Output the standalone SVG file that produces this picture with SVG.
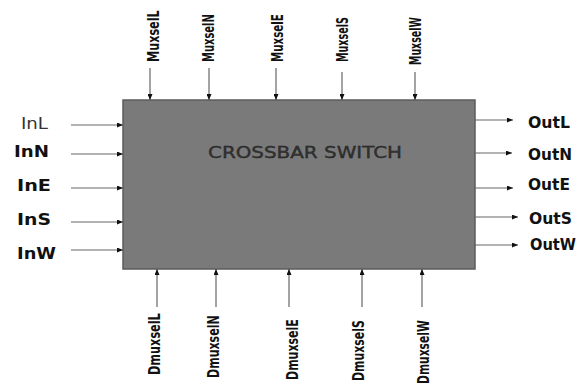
<svg xmlns="http://www.w3.org/2000/svg" width="582" height="385" viewBox="0 0 582 385">
<style>
.ln{stroke:#666;stroke-width:1.2;fill:none;marker-end:url(#ah)}
.v{font-family:"DejaVu Sans","Liberation Sans",sans-serif;font-weight:bold;font-size:16px;fill:#111}
.h{font-family:"DejaVu Sans","Verdana",sans-serif;font-weight:bold;font-size:15px;fill:#111}
.r{font-family:"DejaVu Sans","Verdana",sans-serif;font-size:15px;fill:#333}
</style>
<defs>
<marker id="ah" markerWidth="6" markerHeight="5" refX="6" refY="2.5" orient="auto" markerUnits="userSpaceOnUse">
<path d="M0,0 L6,2.5 L0,5 Z" fill="#111"/>
</marker>
</defs>
<rect width="582" height="385" fill="#fff"/>
<g id="crossbar">
<rect x="123" y="100" width="352" height="169" fill="#7a7a7a" stroke="#5c5c5c" stroke-width="1.5"/>
<text x="208" y="158" class="r" textLength="194" lengthAdjust="spacingAndGlyphs" fill="#1a1a1a" stroke="#1a1a1a" stroke-width="0.3">CROSSBAR SWITCH</text>
</g>
<g id="connectors">
<line class="ln" x1="150" y1="68" x2="150" y2="100"/>
<line class="ln" x1="209" y1="68" x2="209" y2="100"/>
<line class="ln" x1="276" y1="68" x2="276" y2="100"/>
<line class="ln" x1="342" y1="72" x2="342" y2="100"/>
<line class="ln" x1="415" y1="72" x2="415" y2="100"/>
<line class="ln" x1="157" y1="307" x2="157" y2="269"/>
<line class="ln" x1="216" y1="307" x2="216" y2="269"/>
<line class="ln" x1="289" y1="307" x2="289" y2="269"/>
<line class="ln" x1="362" y1="307" x2="362" y2="269"/>
<line class="ln" x1="422" y1="307" x2="422" y2="269"/>
<line class="ln" x1="71" y1="125" x2="123" y2="125"/>
<line class="ln" x1="71" y1="154" x2="123" y2="154"/>
<line class="ln" x1="71" y1="188" x2="123" y2="188"/>
<line class="ln" x1="71" y1="222" x2="123" y2="222"/>
<line class="ln" x1="71" y1="250" x2="123" y2="250"/>
<line class="ln" x1="475" y1="120" x2="513" y2="120"/>
<line class="ln" x1="475" y1="153" x2="512" y2="153"/>
<line class="ln" x1="475" y1="188" x2="513" y2="188"/>
<line class="ln" x1="475" y1="217" x2="518" y2="217"/>
<line class="ln" x1="475" y1="245" x2="518" y2="245"/>
</g>
<g id="top-labels">
<text class="v" transform="translate(158.5,62) rotate(-90) scale(0.703,1)">MuxselL</text>
<text class="v" transform="translate(214,62) rotate(-90) scale(0.622,1)">MuxselN</text>
<text class="v" transform="translate(283,62) rotate(-90) scale(0.643,1)">MuxselE</text>
<text class="v" transform="translate(348,62) rotate(-90) scale(0.598,1)">MuxselS</text>
<text class="v" transform="translate(421,65) rotate(-90) scale(0.59,1)">MuxselW</text>
</g>
<g id="bottom-labels">
<text class="v" transform="translate(160,375) rotate(-90) scale(0.705,1)">DmuxselL</text>
<text class="v" transform="translate(219,378) rotate(-90) scale(0.69,1)">DmuxselN</text>
<text class="v" transform="translate(298,380) rotate(-90) scale(0.688,1)">DmuxselE</text>
<text class="v" transform="translate(364,381) rotate(-90) scale(0.683,1)">DmuxselS</text>
<text class="v" transform="translate(429,384) rotate(-90) scale(0.67,1)">DmuxselW</text>
</g>
<g id="inputs">
<text x="21" y="129" class="r" textLength="27" lengthAdjust="spacingAndGlyphs" fill="#444">InL</text>
<text x="14" y="157" class="h" textLength="35" lengthAdjust="spacingAndGlyphs">InN</text>
<text x="17" y="191" class="h" textLength="34" lengthAdjust="spacingAndGlyphs">InE</text>
<text x="17" y="225" class="h" textLength="34" lengthAdjust="spacingAndGlyphs">InS</text>
<text x="17" y="259" class="h" textLength="39" lengthAdjust="spacingAndGlyphs">InW</text>
</g>
<g id="outputs">
<text x="528" y="127.5" class="h" textLength="42" lengthAdjust="spacingAndGlyphs">OutL</text>
<text x="528" y="160" class="h" textLength="44" lengthAdjust="spacingAndGlyphs">OutN</text>
<text x="528" y="190" class="h" textLength="42" lengthAdjust="spacingAndGlyphs">OutE</text>
<text x="529" y="224" class="h" textLength="43" lengthAdjust="spacingAndGlyphs">OutS</text>
<text x="530" y="250" class="h" textLength="46" lengthAdjust="spacingAndGlyphs">OutW</text>
</g>
</svg>
